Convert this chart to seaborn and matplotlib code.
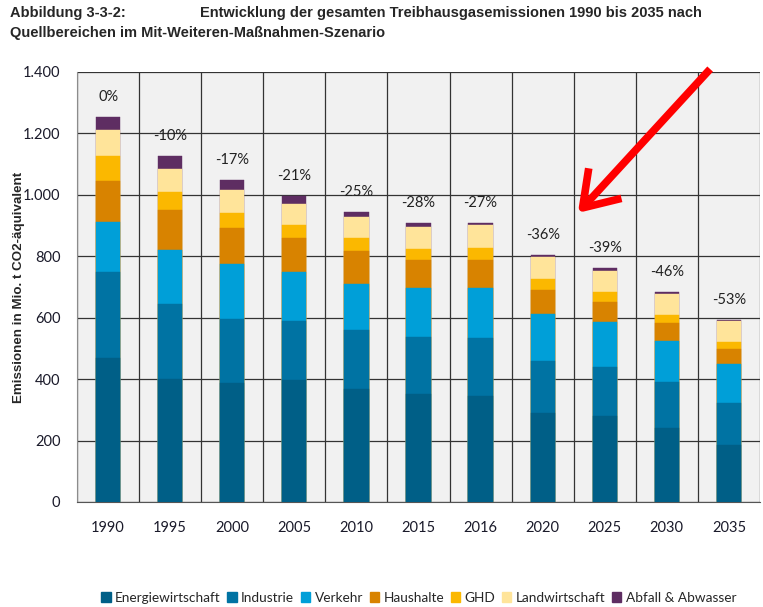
import numpy as np
import pandas as pd
import matplotlib
matplotlib.use("Agg")
import matplotlib.pyplot as plt
import seaborn as sns
from matplotlib.patches import Patch, FancyArrowPatch

years = ["1990", "1995", "2000", "2005", "2010", "2015", "2016",
         "2020", "2025", "2030", "2035"]
sectors = ["Energiewirtschaft", "Industrie", "Verkehr", "Haushalte",
           "GHD", "Landwirtschaft", "Abfall & Abwasser"]

energie = [467, 399, 386, 398, 369, 350, 344, 288, 280, 240, 185]
industrie = [281, 245, 208, 191, 189, 187, 188, 170, 159, 149, 137]
verkehr = [164, 177, 181, 159, 152, 160, 165, 155, 148, 136, 126]
haushalte = [132, 130, 117, 110, 107, 89, 91, 77, 65, 56, 50]
ghd = [80, 57, 48, 44, 41, 36, 38, 35, 31, 27, 23]
landwirtschaft = [87, 76, 76, 68, 69, 72, 74, 71, 69, 68, 67]
abfall = [40, 40, 30, 24, 16, 13, 9, 9, 8, 7, 5]

change_labels = ["0%", "-10%", "-17%", "-21%", "-25%", "-28%", "-27%",
                 "-36%", "-39%", "-46%", "-53%"]

colors = ["#005f87", "#0073a3", "#009fd8", "#d88300", "#fbb800",
          "#ffe49a", "#5e2d62"]

layers = [energie, industrie, verkehr, haushalte, ghd, landwirtschaft, abfall]
df = pd.DataFrame({"Jahr": years})
running = np.zeros(len(years))
for name, vals in zip(sectors, layers):
    running = running + np.array(vals)
    df[name] = running

sns.set_style("white")
plt.rcParams["font.family"] = ["Lato", "DejaVu Sans"]
title_font = ["Liberation Sans Narrow", "Liberation Sans", "DejaVu Sans"]

fig = plt.figure(figsize=(7.63, 6.07), dpi=100)
ax = fig.add_axes([0.101, 0.173, 0.895, 0.709])
ax.set_facecolor("#f1f1f1")

# stacked bars: draw cumulative totals from the top layer downward
for name, col in reversed(list(zip(sectors, colors))):
    sns.barplot(data=df, x="Jahr", y=name, color=col, width=0.39,
                saturation=1, ax=ax, edgecolor=col, linewidth=0.3,
                zorder=3)

totals = df[sectors[-1]].values
for i, (tot, lab) in enumerate(zip(totals, change_labels)):
    ax.text(i, tot + 65, lab, ha="center", va="center", fontsize=10.5,
            color="#222222", zorder=4)

ax.set_ylim(0, 1400)
ax.set_xlim(-0.5, len(years) - 0.5)
ax.set_yticks(range(0, 1401, 200))
ax.set_yticklabels([f"{v:,}".replace(",", ".") for v in range(0, 1401, 200)],
                   fontsize=10.5, color="#1a1a2a")
ax.set_xticks(range(len(years)))
ax.set_xticklabels(years, fontsize=10.5, color="#1a1a2a")
ax.set_xticks(np.arange(-0.5, len(years), 1), minor=True)
ax.tick_params(axis="x", which="major", length=0, pad=14)
ax.tick_params(axis="x", which="minor", length=6, width=0.9, color="#333333",
               direction="out")
ax.tick_params(axis="y", length=0, pad=12)

ax.grid(axis="y", which="major", color="#333333", linewidth=0.9, zorder=0)
ax.grid(axis="x", which="minor", color="#333333", linewidth=0.9, zorder=0)
ax.set_axisbelow(True)
for side in ["top", "right"]:
    ax.spines[side].set_visible(False)
ax.spines["left"].set_color("#8c8c8c")
ax.spines["bottom"].set_color("#555555")

ax.set_xlabel("")
ax.set_ylabel("")
fig.text(19 / 763, 1 - 287 / 607, "Emissionen in Mio. t CO2-äquivalent",
         rotation=90, ha="center", va="center", fontsize=9.6,
         fontweight="bold", family=["Liberation Sans", "DejaVu Sans"])

fig.text(0.013, 0.978, "Abbildung 3-3-2:", fontsize=10.5, fontweight="bold",
         family=title_font, va="center")
fig.text(0.262, 0.978, "Entwicklung der gesamten Treibhausgasemissionen 1990 bis 2035 nach",
         fontsize=10.5, fontweight="bold", family=title_font, va="center")
fig.text(0.013, 0.945, "Quellbereichen im Mit-Weiteren-Maßnahmen-Szenario",
         fontsize=10.5, fontweight="bold", family=title_font, va="center")

# red arrow pointing at the 2020 label
fig.patches.append(FancyArrowPatch(
    (712 / 763, 1 - 67 / 607), (576 / 763, 1 - 215 / 607),
    transform=fig.transFigure, arrowstyle="->,head_length=6,head_width=4",
    color="#ff0000", linewidth=5.5, mutation_scale=4, capstyle="butt"))

handles = [Patch(facecolor=c, edgecolor=c) for c in colors]
fig.legend(handles, sectors, loc="center left", ncol=7,
           bbox_to_anchor=(96 / 763, 1 - 598 / 607), frameon=False,
           fontsize=9.8, handlelength=0.7, handleheight=0.7,
           handletextpad=0.3, columnspacing=0.5, borderaxespad=0)

fig.savefig("out.png", dpi=100)
